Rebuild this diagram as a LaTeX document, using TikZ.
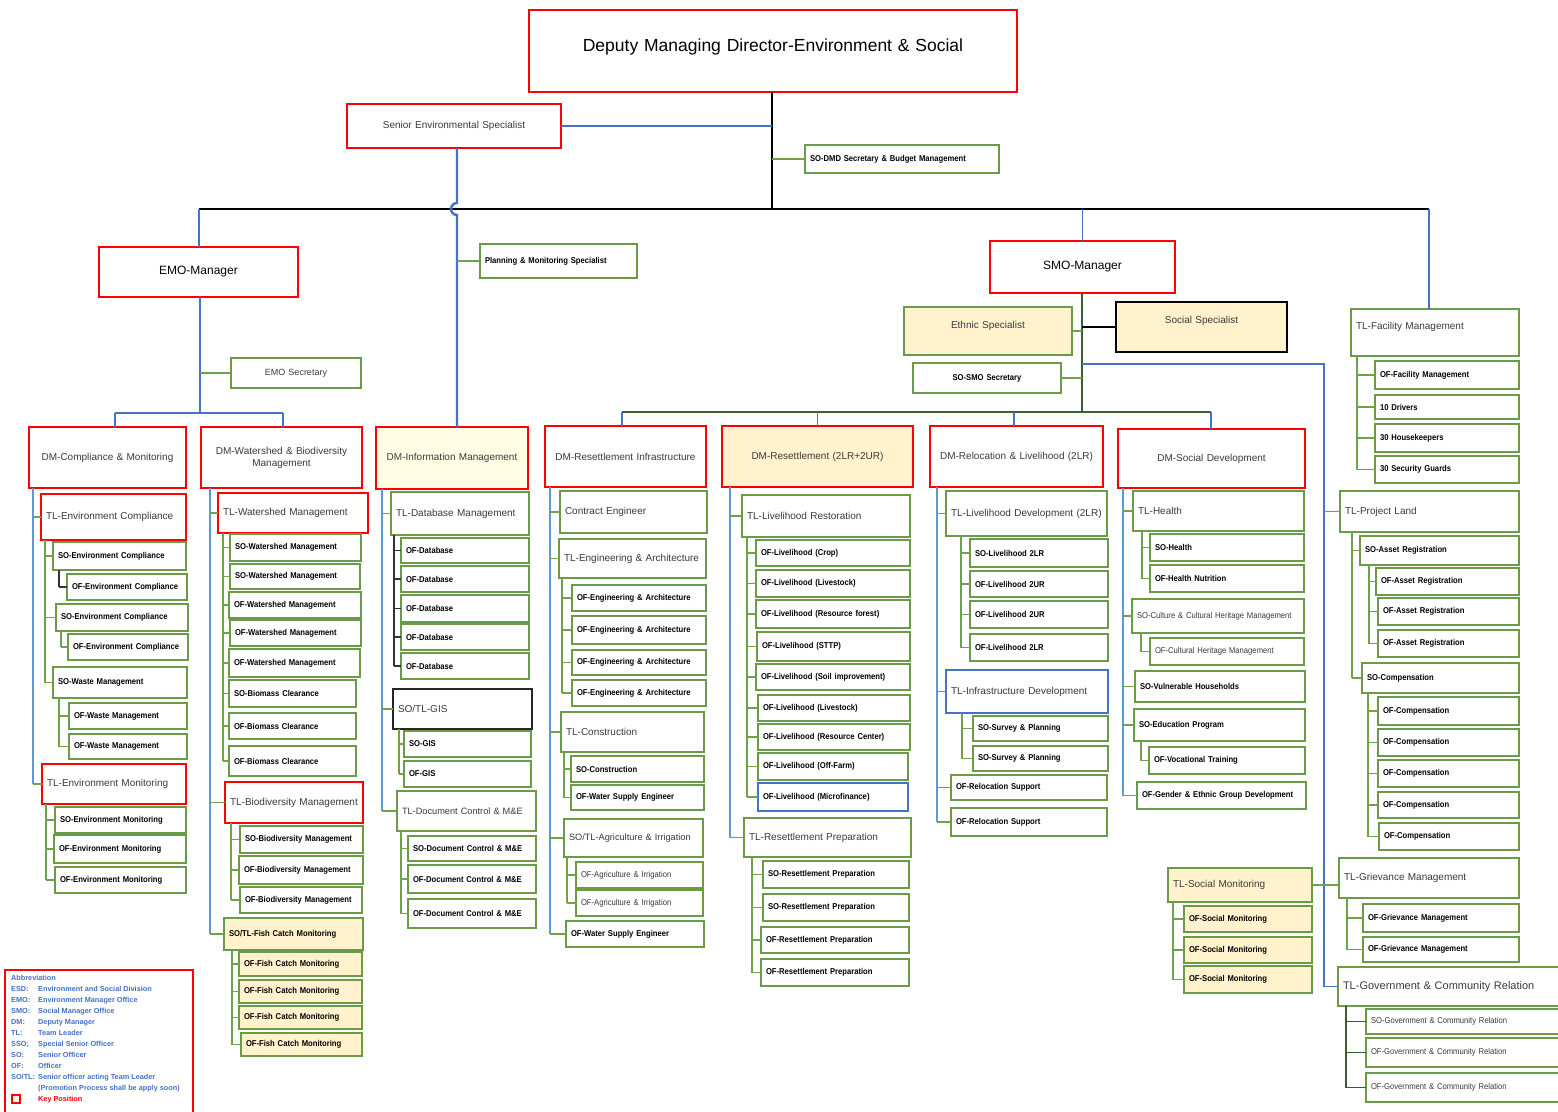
\documentclass[tikz,border=0pt]{standalone}
\usepackage{fontspec}
\setmainfont{Liberation Sans}
\newfontfamily\narrowsans[FakeStretch=0.9]{Liberation Sans}
\usetikzlibrary{calc}
\definecolor{boxred}{HTML}{FF0000}
\definecolor{boxgrn}{HTML}{6B9B47}
\definecolor{stubgrn}{HTML}{6FA34A}
\definecolor{darkgrn}{HTML}{3B5E2B}
\definecolor{lineblue}{HTML}{5B9BD5}
\definecolor{deepblue}{HTML}{4472C4}
\definecolor{cream}{HTML}{FFF2CC}
\definecolor{paleyellow}{HTML}{FFFEE4}
\definecolor{txtgray}{HTML}{3A3A3A}

% box from top-left (x1,y1) to bottom-right (x2,y2): name, x1, y1, x2, y2, style, text
\newcommand\bx[7]{%
  \pgfmathsetmacro\bxw{#4-#2}%
  \pgfmathsetmacro\bxh{#5-#3}%
  \pgfmathsetmacro\bxt{#4-#2-10}%
  \node[box, minimum width=\bxw pt, minimum height=\bxh pt, text width=\bxt pt, #6] (#1) at (#2,#3) {#7};%
}
% parent, trunk x, trunk style, stub style, children, last child
\newcommand\orgtree[6]{%
  \draw[#3] (#1.south -| #2,0) -- (#6.west -| #2,0);%
  \foreach \kid in {#5}{\draw[#4] (\kid.west -| #2,0) -- (\kid.west);}%
}
% label set a little above the middle of its box
\newcommand\upper[2]{\raisebox{#1}[0pt][0pt]{#2}}

\begin{document}
\begin{tikzpicture}[x=1pt,y=-1pt,
  box/.style={anchor=north west, inner xsep=5pt, inner ysep=0pt, outer sep=0pt, align=left},
  R/.style={draw=boxred, line width=1.5pt},
  G/.style={draw=boxgrn, line width=1.1pt},
  C/.style={fill=cream},
  cen/.style={align=center},
  dm/.style={R, cen, font=\fontsize{10}{12}\selectfont, text=txtgray},
  tl/.style={font=\fontsize{10}{12}\selectfont, text=txtgray},
  tlg/.style={G, tl},
  it/.style={G, font=\narrowsans\bfseries\fontsize{8.5}{10}\selectfont},
  itr/.style={G, font=\narrowsans\fontsize{8.5}{10}\selectfont, text=txtgray},
  bl/.style={draw=lineblue, line width=1.1pt},
  tb/.style={draw=deepblue, line width=1.1pt},
  thb/.style={draw=deepblue, line width=2.4pt},
  sg/.style={draw=stubgrn, line width=1.1pt},
  dg/.style={draw=darkgrn, line width=1.4pt},
  kk/.style={draw=black!80, line width=1.1pt},
  blk/.style={draw=black, line width=2.3pt}
]
\useasboundingbox (0,0) rectangle (1558,1111);
\clip (0,0) rectangle (1558,1111);
\fill[white] (0,0) rectangle (1558,1111);

% ---------- top level ----------
\bx{dmd}{529}{10}{1017}{92}{R, line width=2.4pt, cen, font=\fontsize{17.5}{20}\selectfont}{\upper{0pt}{Deputy Managing Director-Environment \& Social}}
\bx{ses}{347}{104}{561}{148}{R, cen, font=\fontsize{10}{12}\selectfont, text=txtgray}{Senior Environmental Specialist}
\bx{dsec}{805}{145}{999}{173}{it}{SO-DMD Secretary \& Budget Management}
\bx{plan}{480}{244}{637}{278}{it}{Planning \& Monitoring Specialist}
\bx{emo}{99}{247}{298}{297}{R, cen, font=\fontsize{12}{14}\selectfont}{EMO-Manager}
\bx{emosec}{231}{358}{361}{388}{G, cen, font=\fontsize{9}{11}\selectfont, text=txtgray}{EMO Secretary}
\bx{smo}{990}{241}{1175}{293}{R, cen, font=\fontsize{12}{14}\selectfont}{SMO-Manager}
\bx{eth}{904}{307}{1072}{355}{G, C, cen, font=\fontsize{10}{12}\selectfont, text=txtgray}{\upper{3pt}{Ethnic Specialist}}
\bx{soc}{1116}{302}{1287}{352}{draw=black, line width=2pt, C, cen, font=\fontsize{10}{12}\selectfont, text=txtgray}{\upper{3.5pt}{Social Specialist}}
\bx{smosec}{913}{363}{1061}{393}{it, cen}{SO-SMO Secretary}

% ---------- deputy managers ----------
\bx{dmc}{29}{427}{186}{488}{dm}{DM-Compliance \& Monitoring}
\bx{dmw}{201}{427}{362}{488}{dm}{DM-Watershed \& Biodiversity\\Management}
\bx{dmi}{376}{427}{528}{489}{dm, fill=paleyellow}{DM-Information Management}
\bx{dmri}{545}{426}{706}{487}{dm}{DM-Resettlement Infrastructure}
\bx{dmr}{722}{426}{913}{487}{dm, fill=cream}{DM-Resettlement (2LR+2UR)}
\bx{dmrl}{930}{426}{1103}{487}{dm}{DM-Relocation \& Livelihood (2LR)}
\bx{dms}{1118}{429}{1305}{488}{dm}{DM-Social Development}

% ---------- compliance & monitoring ----------
\bx{tlec}{41}{494}{186}{540}{R, tl}{TL-Environment Compliance}
\bx{soec1}{53}{542}{186}{570}{it}{SO-Environment Compliance}
\bx{ofec1}{67}{574}{187}{600}{it}{OF-Environment Compliance}
\bx{soec2}{56}{604}{188}{631}{it}{SO-Environment Compliance}
\bx{ofec2}{68}{634}{188}{660}{it}{OF-Environment Compliance}
\bx{sowm}{53}{667}{187}{698}{it}{SO-Waste Management}
\bx{ofwm1}{69}{703}{187}{729}{it}{OF-Waste Management}
\bx{ofwm2}{69}{734}{187}{759}{it}{OF-Waste Management}
\bx{tlem}{42}{764}{186}{804}{R, tl}{TL-Environment Monitoring}
\bx{soem}{55}{807}{186}{833}{it}{SO-Environment Monitoring}
\bx{ofem1}{54}{835}{186}{863}{it}{OF-Environment Monitoring}
\bx{ofem2}{55}{867}{186}{893}{it}{OF-Environment Monitoring}

% ---------- watershed & biodiversity ----------
\bx{tlws}{218}{493}{368}{533}{R, tl}{TL-Watershed Management}
\bx{sows1}{230}{534}{361}{561}{it}{SO-Watershed Management}
\bx{sows2}{230}{564}{360}{589}{it}{SO-Watershed Management}
\bx{ofws1}{229}{592}{361}{618}{it}{OF-Watershed Management}
\bx{ofws2}{230}{620}{361}{646}{it}{OF-Watershed Management}
\bx{ofws3}{229}{649}{360}{677}{it}{OF-Watershed Management}
\bx{sobc}{229}{680}{356}{707}{it}{SO-Biomass Clearance}
\bx{ofbc1}{229}{713}{356}{739}{it}{OF-Biomass Clearance}
\bx{ofbc2}{229}{746}{356}{776}{it}{OF-Biomass Clearance}
\bx{tlbio}{225}{782}{363}{823}{R, tl}{TL-Biodiversity Management}
\bx{sobio}{240}{826}{363}{853}{it}{SO-Biodiversity Management}
\bx{ofbio1}{239}{856}{363}{884}{it}{OF-Biodiversity Management}
\bx{ofbio2}{240}{887}{362}{913}{it}{OF-Biodiversity Management}
\bx{tlfish}{224}{918}{363}{950}{it, C}{SO/TL-Fish Catch Monitoring}
\bx{offc1}{239}{952}{362}{976}{it, C}{OF-Fish Catch Monitoring}
\bx{offc2}{239}{980}{362}{1003}{it, C}{OF-Fish Catch Monitoring}
\bx{offc3}{239}{1006}{362}{1029}{it, C}{OF-Fish Catch Monitoring}
\bx{offc4}{241}{1033}{362}{1056}{it, C}{OF-Fish Catch Monitoring}

% ---------- information management ----------
\bx{tldb}{391}{492}{529}{535}{tlg}{TL-Database Management}
\bx{ofdb1}{401}{538}{529}{563}{it}{OF-Database}
\bx{ofdb2}{401}{566}{529}{592}{it}{OF-Database}
\bx{ofdb3}{401}{595}{529}{622}{it}{OF-Database}
\bx{ofdb4}{401}{624}{529}{650}{it}{OF-Database}
\bx{ofdb5}{401}{653}{529}{679}{it}{OF-Database}
\bx{tlgis}{393}{689}{532}{729}{draw=black!85, line width=1.1pt, tl}{SO/TL-GIS}
\bx{sogis}{404}{731}{531}{757}{it}{SO-GIS}
\bx{ofgis}{404}{761}{531}{787}{it}{OF-GIS}
\bx{tldc}{397}{791}{536}{831}{tlg, font=\fontsize{9.2}{11}\selectfont}{TL-Document Control \& M\&E}
\bx{sodc}{408}{836}{536}{861}{it}{SO-Document Control \& M\&E}
\bx{ofdc1}{408}{865}{536}{893}{it}{OF-Document Control \& M\&E}
\bx{ofdc2}{408}{899}{536}{928}{it}{OF-Document Control \& M\&E}

% ---------- resettlement infrastructure ----------
\bx{ce}{560}{491}{707}{533}{tlg}{Contract Engineer}
\bx{tlea}{559}{539}{706}{578}{tlg}{TL-Engineering \& Architecture}
\bx{ofea1}{572}{585}{706}{611}{it}{OF-Engineering \& Architecture}
\bx{ofea2}{572}{616}{706}{644}{it}{OF-Engineering \& Architecture}
\bx{ofea3}{572}{650}{706}{675}{it}{OF-Engineering \& Architecture}
\bx{ofea4}{572}{680}{706}{706}{it}{OF-Engineering \& Architecture}
\bx{tlcon}{561}{712}{704}{752}{tlg}{TL-Construction}
\bx{socon}{571}{756}{704}{782}{it}{SO-Construction}
\bx{ofwse1}{571}{785}{704}{810}{it}{OF-Water Supply Engineer}
\bx{tlai}{564}{819}{703}{857}{tlg, font=\fontsize{9.2}{11}\selectfont}{SO/TL-Agriculture \& Irrigation}
\bx{ofai1}{576}{862}{703}{888}{itr}{OF-Agriculture \& Irrigation}
\bx{ofai2}{576}{890}{703}{916}{itr}{OF-Agriculture \& Irrigation}
\bx{ofwse2}{566}{921}{704}{947}{it}{OF-Water Supply Engineer}

% ---------- resettlement ----------
\bx{tllr}{742}{495}{910}{537}{tlg}{TL-Livelihood Restoration}
\bx{ofl1}{756}{540}{910}{566}{it}{OF-Livelihood (Crop)}
\bx{ofl2}{756}{570}{910}{597}{it}{OF-Livelihood (Livestock)}
\bx{ofl3}{756}{600}{910}{628}{it}{OF-Livelihood (Resource forest)}
\bx{ofl4}{757}{632}{910}{661}{it}{OF-Livelihood (STTP)}
\bx{ofl5}{756}{664}{910}{690}{it}{OF-Livelihood (Soil improvement)}
\bx{ofl6}{758}{695}{910}{721}{it}{OF-Livelihood (Livestock)}
\bx{ofl7}{758}{724}{910}{750}{it}{OF-Livelihood (Resource Center)}
\bx{ofl8}{758}{753}{908}{780}{it}{OF-Livelihood (Off-Farm)}
\bx{ofl9}{758}{783}{908}{811}{it, draw=deepblue}{OF-Livelihood (Microfinance)}
\bx{tlrp}{744}{818}{911}{857}{tlg}{TL-Resettlement Preparation}
\bx{sorp1}{763}{861}{909}{888}{it}{SO-Resettlement Preparation}
\bx{sorp2}{763}{894}{909}{921}{it}{SO-Resettlement Preparation}
\bx{ofrp1}{761}{927}{909}{953}{it}{OF-Resettlement Preparation}
\bx{ofrp2}{761}{959}{909}{986}{it}{OF-Resettlement Preparation}

% ---------- relocation & livelihood ----------
\bx{tlld}{946}{491}{1107}{536}{tlg}{TL-Livelihood Development (2LR)}
\bx{soll}{970}{539}{1108}{567}{it}{SO-Livelihood 2LR}
\bx{ofll1}{970}{571}{1108}{597}{it}{OF-Livelihood 2UR}
\bx{ofll2}{970}{601}{1108}{628}{it}{OF-Livelihood 2UR}
\bx{ofll3}{970}{634}{1108}{661}{it}{OF-Livelihood 2LR}
\bx{tlid}{946}{670}{1108}{713}{draw=deepblue, line width=1.1pt, tl}{TL-Infrastructure Development}
\bx{sosp1}{973}{716}{1108}{741}{it}{SO-Survey \& Planning}
\bx{sosp2}{973}{746}{1108}{771}{it}{SO-Survey \& Planning}
\bx{ofrs1}{951}{775}{1107}{800}{it}{OF-Relocation Support}
\bx{ofrs2}{951}{808}{1107}{836}{it}{OF-Relocation Support}

% ---------- social development ----------
\bx{tlh}{1133}{491}{1304}{531}{tlg}{TL-Health}
\bx{soh}{1150}{534}{1304}{561}{it}{SO-Health}
\bx{ofh}{1150}{565}{1304}{592}{it}{OF-Health Nutrition}
\bx{socc}{1132}{599}{1304}{633}{itr}{SO-Culture \& Cultural Heritage Management}
\bx{ofch}{1150}{638}{1304}{665}{itr}{OF-Cultural Heritage Management}
\bx{sovh}{1135}{671}{1305}{702}{it}{SO-Vulnerable Households}
\bx{soep}{1134}{709}{1305}{741}{it}{SO-Education Program}
\bx{ofvt}{1149}{747}{1305}{774}{it}{OF-Vocational Training}
\bx{ofge}{1137}{782}{1306}{809}{it}{OF-Gender \& Ethnic Group Development}
\bx{tlsm}{1168}{868}{1312}{902}{tlg, C}{TL-Social Monitoring}
\bx{ofsm1}{1184}{906}{1312}{932}{it, C}{OF-Social Monitoring}
\bx{ofsm2}{1184}{937}{1312}{963}{it, C}{OF-Social Monitoring}
\bx{ofsm3}{1184}{966}{1312}{993}{it, C}{OF-Social Monitoring}

% ---------- facility, land, grievance, relations ----------
\bx{fac}{1351}{309}{1519}{356}{tlg}{\upper{3pt}{TL-Facility Management}}
\bx{offm}{1375}{361}{1519}{389}{it}{OF-Facility Management}
\bx{drv}{1375}{395}{1519}{419}{it}{10 Drivers}
\bx{hk}{1375}{424}{1519}{452}{it}{30 Housekeepers}
\bx{sgd}{1375}{456}{1519}{483}{it}{30 Security Guards}
\bx{land}{1340}{491}{1519}{532}{tlg}{TL-Project Land}
\bx{soar}{1360}{536}{1519}{565}{it}{SO-Asset Registration}
\bx{ofar1}{1376}{568}{1519}{595}{it}{OF-Asset Registration}
\bx{ofar2}{1378}{598}{1519}{625}{it}{OF-Asset Registration}
\bx{ofar3}{1378}{630}{1519}{657}{it}{OF-Asset Registration}
\bx{socp}{1362}{663}{1519}{693}{it}{SO-Compensation}
\bx{ofcp1}{1378}{697}{1519}{725}{it}{OF-Compensation}
\bx{ofcp2}{1378}{729}{1519}{756}{it}{OF-Compensation}
\bx{ofcp3}{1378}{760}{1519}{787}{it}{OF-Compensation}
\bx{ofcp4}{1378}{792}{1519}{818}{it}{OF-Compensation}
\bx{ofcp5}{1379}{823}{1519}{850}{it}{OF-Compensation}
\bx{griev}{1339}{858}{1519}{898}{tlg}{TL-Grievance Management}
\bx{ofgm1}{1363}{904}{1519}{932}{it}{OF-Grievance Management}
\bx{ofgm2}{1363}{937}{1519}{962}{it}{OF-Grievance Management}
\bx{gov}{1338}{967}{1580}{1006}{G, font=\fontsize{11}{13}\selectfont, text=txtgray}{TL-Government \& Community Relation}
\bx{sogc}{1366}{1009}{1580}{1034}{itr}{SO-Government \& Community Relation}
\bx{ofgc1}{1366}{1038}{1580}{1067}{itr}{OF-Government \& Community Relation}
\bx{ofgc2}{1366}{1073}{1580}{1102}{itr}{OF-Government \& Community Relation}

% ---------- top connectors ----------
\coordinate (hub) at (772,209);
\coordinate (hl) at (199,209);
\coordinate (hr) at (1429,209);
\coordinate (hop) at (457,203);
\draw[blk] (dmd.south -| hub) -- (hub);
\draw[blk] (hl) -- (hr);
\draw[tb] (hl) -- (hl |- emo.north);
\draw[tb] (hub -| smo.north) -- (smo.north);
\draw[tb] (hr) -- (hr |- fac.north);
\draw[tb] (ses.east) -- (ses.east -| hub);
\draw[sg] (dsec.west -| hub) -- (dsec.west);
\draw[thb] (ses.south -| hop) -- (hop) arc[start angle=90, end angle=270, radius=6pt] -- (dmi.north -| hop);
\draw[sg] (plan.west -| hop) -- (plan.west);

% EMO branch
\coordinate (ej) at (200,413);
\coordinate (ejl) at (115,413);
\coordinate (ejr) at (283,413);
\draw[tb] (emo.south -| ej) -- (ej);
\draw[tb] (ejl) -- (ejr);
\draw[tb] (ejl) -- (ejl |- dmc.north);
\draw[tb] (ejr) -- (ejr |- dmw.north);
\draw[sg] (emosec.west -| ej) -- (emosec.west);

% SMO branch
\coordinate (sj) at (1082,412);
\coordinate (sjl) at (622,412);
\coordinate (sjm) at (1014,412);
\coordinate (sjr) at (1211,412);
\coordinate (sb) at (1324,364);
\draw[dg] (smo.south -| sj) -- (sj);
\draw[dg] (sjl) -- (sjr);
\draw[tb] (sjl) -- (sjl |- dmri.north);
\draw[tb] (sj -| dmr.north) -- (dmr.north);
\draw[tb] (sjm) -- (sjm |- dmrl.north);
\draw[tb] (sjr) -- (sjr |- dms.north);
\draw[sg] (eth.east) -- (eth.east -| sj);
\draw[draw=black, line width=1.3pt] (soc.west -| sj) -- (soc.west);
\draw[sg] (smosec.east) -- (smosec.east -| sj);
\draw[tb] (sb -| sj) -- (sb) -- (sb |- gov.west) -- (gov.west);
\draw[sg] (land.west -| sb) -- (land.west);
\draw[sg] (tlsm.east) -- (tlsm.east -| griev.west);

% ---------- column trees ----------
\orgtree{dmc}{33}{bl}{sg}{tlec,tlem}{tlem}
\orgtree{tlec}{45}{sg}{sg}{soec1,soec2,sowm}{sowm}
\orgtree{soec1}{59}{kk}{kk}{ofec1}{ofec1}
\orgtree{soec2}{61}{sg}{sg}{ofec2}{ofec2}
\orgtree{sowm}{59}{sg}{sg}{ofwm1,ofwm2}{ofwm2}
\orgtree{tlem}{46}{sg}{sg}{soem,ofem1,ofem2}{ofem2}

\orgtree{dmw}{210}{bl}{sg}{tlws,tlbio,tlfish}{tlfish}
\orgtree{tlws}{223}{sg}{sg}{sows1,sows2,ofws1,ofws2,ofws3,sobc,ofbc1,ofbc2}{ofbc2}
\orgtree{tlbio}{231}{sg}{sg}{sobio,ofbio1,ofbio2}{ofbio2}
\orgtree{tlfish}{232}{sg}{sg}{offc1,offc2,offc3,offc4}{offc4}

\orgtree{dmi}{382}{bl}{sg}{tldb,tlgis,tldc}{tldc}
\orgtree{tldb}{394}{kk}{kk}{ofdb1,ofdb2,ofdb3,ofdb4,ofdb5}{ofdb5}
\orgtree{tlgis}{399}{sg}{sg}{sogis,ofgis}{ofgis}
\orgtree{tldc}{401}{sg}{sg}{sodc,ofdc1,ofdc2}{ofdc2}

\orgtree{dmri}{550}{bl}{sg}{ce,tlea,tlcon,tlai,ofwse2}{ofwse2}
\orgtree{tlea}{562}{sg}{sg}{ofea1,ofea2,ofea3,ofea4}{ofea4}
\orgtree{tlcon}{564}{sg}{sg}{socon,ofwse1}{ofwse1}
\orgtree{tlai}{567}{sg}{sg}{ofai1,ofai2}{ofai2}

\orgtree{dmr}{730}{bl}{sg}{tllr,tlrp}{tlrp}
\orgtree{tllr}{747}{sg}{sg}{ofl1,ofl2,ofl3,ofl4,ofl5,ofl6,ofl7,ofl8,ofl9}{ofl9}
\orgtree{tlrp}{752}{sg}{sg}{sorp1,sorp2,ofrp1,ofrp2}{ofrp2}

\orgtree{dmrl}{937}{bl}{sg}{tlld,tlid,ofrs1,ofrs2}{ofrs2}
\orgtree{tlld}{961}{sg}{sg}{soll,ofll1,ofll2,ofll3}{ofll3}
\orgtree{tlid}{962}{sg}{sg}{sosp1,sosp2}{sosp2}

\orgtree{dms}{1123}{bl}{sg}{tlh,socc,sovh,soep,ofge}{ofge}
\orgtree{tlh}{1142}{sg}{sg}{soh,ofh}{ofh}
\orgtree{socc}{1141}{sg}{sg}{ofch}{ofch}
\orgtree{soep}{1141}{sg}{sg}{ofvt}{ofvt}
\orgtree{tlsm}{1173}{sg}{sg}{ofsm1,ofsm2,ofsm3}{ofsm3}

\orgtree{fac}{1357}{sg}{sg}{offm,drv,hk,sgd}{sgd}
\orgtree{land}{1352}{sg}{sg}{soar,socp}{socp}
\orgtree{soar}{1369}{sg}{sg}{ofar1,ofar2,ofar3}{ofar3}
\orgtree{socp}{1368}{sg}{sg}{ofcp1,ofcp2,ofcp3,ofcp4,ofcp5}{ofcp5}
\orgtree{griev}{1347}{sg}{sg}{ofgm1,ofgm2}{ofgm2}
\orgtree{gov}{1346}{dg}{dg}{sogc,ofgc1,ofgc2}{ofgc2}

% ---------- legend ----------
\node[draw=boxred, line width=2pt, anchor=north west, minimum width=188pt, minimum height=160pt, inner sep=0pt] (legend) at (4,969) {};
\node[anchor=north west, inner sep=0pt, align=left, text=deepblue, font=\bfseries\fontsize{7.3}{11}\selectfont] (legtext) at (11,975) {%
Abbreviation\\
\makebox[27pt][l]{ESD:}Environment and Social Division\\
\makebox[27pt][l]{EMO:}Environment Manager Office\\
\makebox[27pt][l]{SMO:}Social Manager Office\\
\makebox[27pt][l]{DM:}Deputy Manager\\
\makebox[27pt][l]{TL:}Team Leader\\
\makebox[27pt][l]{SSO;}Special Senior Officer\\
\makebox[27pt][l]{SO:}Senior Officer\\
\makebox[27pt][l]{OF:}Officer\\
\makebox[27pt][l]{SO/TL:}Senior officer acting Team Leader\\
\makebox[27pt][l]{}(Promotion Process shall be apply soon)\\
\makebox[27pt][l]{}\textcolor{boxred}{Key Position}};
\node[draw=boxred, line width=1.2pt, minimum size=8pt, inner sep=0pt] (keysq) at (16,1099) {};
\end{tikzpicture}
\end{document}
